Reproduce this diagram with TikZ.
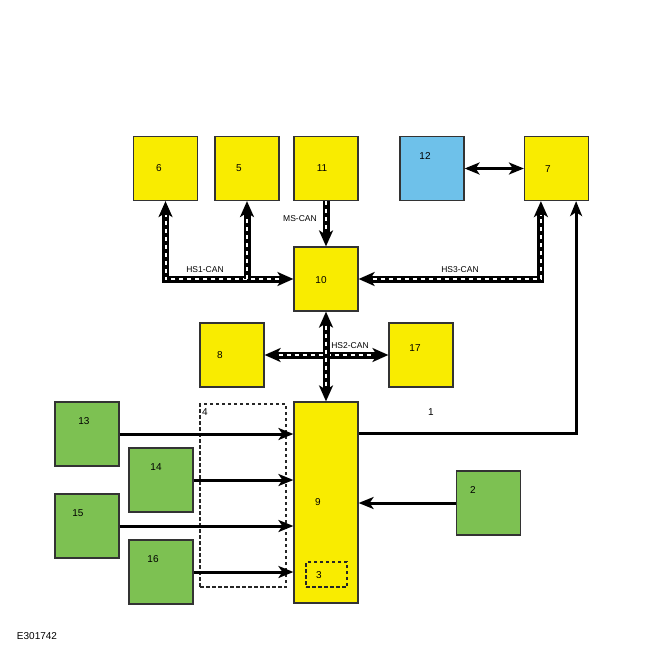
\documentclass[tikz,border=0pt]{standalone}
\usepackage{fontspec}
\setmainfont{Liberation Sans}
\usetikzlibrary{arrows.meta,positioning}

\definecolor{boxyellow}{HTML}{F9EC00}
\definecolor{boxblue}{HTML}{6EC1EA}
\definecolor{boxgreen}{HTML}{7DC152}

\tikzset{
    box/.style={draw=black!80, line width=1.2pt, minimum width=64pt, minimum height=64pt, inner sep=0pt},
    ybox/.style={box, fill=boxyellow},
    bbox/.style={box, fill=boxblue},
    gbox/.style={box, fill=boxgreen},
    dbox/.style={draw=black!85, line width=1.1pt, dash pattern=on 3.5pt off 2.5pt, inner sep=0pt},
    num/.style={font=\fontsize{10}{12}\selectfont, inner sep=0pt},
    canlbl/.style={font=\fontsize{8.5}{10}\selectfont, inner sep=0pt},
    tip/.tip={Stealth[length=15pt,width=12pt,inset=4pt]},
    bigtip/.tip={Stealth[length=16pt,width=14pt,inset=4.5pt]},
    arr/.style={line width=3pt, -tip},
    arrboth/.style={line width=3pt, tip-tip},
    can/.style={line width=7pt, -bigtip,
        postaction={draw=white, line width=2pt, dash pattern=on 4pt off 4pt, -, shorten >=14pt}},
    canboth/.style={line width=7pt, bigtip-bigtip,
        postaction={draw=white, line width=2pt, dash pattern=on 4pt off 4pt, -, shorten >=14pt, shorten <=14pt}}
}

\begin{document}
\begin{tikzpicture}[x=1pt, y=-1pt]
    \useasboundingbox (0,0) rectangle (650,650);

    % top row
    \node[ybox] (n6) at (165.5,168.5) {};
    \node[ybox] (n5) at (247,168.5) {};
    \node[ybox] (n11) at (326,168.5) {};
    \node[bbox] (n12) at (432,168.5) {};
    \node[ybox] (n7) at (556.5,168.5) {};
    \node[num] at (159,168) {6};
    \node[num] at (239,168) {5};
    \node[num] at (322,168) {11};
    \node[num] at (425,156) {12};
    \node[num] at (548,169) {7};

    % gateway and HS2 nodes
    \node[ybox] (n10) at (326,279) {};
    \node[ybox] (n8) at (232,355) {};
    \node[ybox] (n17) at (421,355) {};
    \node[num] at (321,280) {10};
    \node[num] at (220,355) {8};
    \node[num] at (415,348) {17};

    % lower part
    \node[dbox, minimum width=86pt, minimum height=183pt] (n4) at (243,495.5) {};
    \node[ybox, minimum height=201pt] (n9) at (326,502.5) {};
    \node[dbox, minimum width=41pt, minimum height=25pt] (n3) at (326.5,574.5) {};
    \node[gbox] (n13) at (87,434) {};
    \node[gbox] (n14) at (161,480) {};
    \node[gbox] (n15) at (87,526) {};
    \node[gbox] (n16) at (161,572) {};
    \node[gbox] (n2) at (488.5,503) {};
    \node[num] at (205,412) {4};
    \node[num] at (318,502) {9};
    \node[num] at (319,575) {3};
    \node[num] at (84,421) {13};
    \node[num] at (156,467) {14};
    \node[num] at (78,513) {15};
    \node[num] at (153,559) {16};
    \node[num] at (473,490) {2};
    \node[num] at (431,412) {1};

    % CAN buses
    \draw[canboth] (n10.west) -| (n6.south);
    \draw[can] (n5 |- n10.west) -- (n5.south);
    \draw[can] (n11.south) -- (n10.north);
    \draw[canboth] (n10.east) -| ([xshift=17pt]n7.south west);
    \draw[canboth] (n8.east) -- (n17.west);
    \draw[canboth] (n10.south) -- (n9.north);
    \node[canlbl] at (205,270) {HS1-CAN};
    \node[canlbl] at (300,219) {MS-CAN};
    \node[canlbl] at (460,270) {HS3-CAN};
    \node[canlbl] at (350,346) {HS2-CAN};

    % plain connections
    \draw[arrboth] (n12.east) -- (n7.west);
    \draw[arr] ([yshift=-32pt]n9.north east) -| ([xshift=-13pt]n7.south east);
    \draw[arr] (n13.east) -- (n13.east -| n9.west);
    \draw[arr] (n14.east) -- (n14.east -| n9.west);
    \draw[arr] (n15.east) -- (n15.east -| n9.west);
    \draw[arr] (n16.east) -- (n16.east -| n9.west);
    \draw[arr] (n2.west) -- (n2.west -| n9.east);

    \node[num] at (37,636) {E301742};
\end{tikzpicture}
\end{document}
